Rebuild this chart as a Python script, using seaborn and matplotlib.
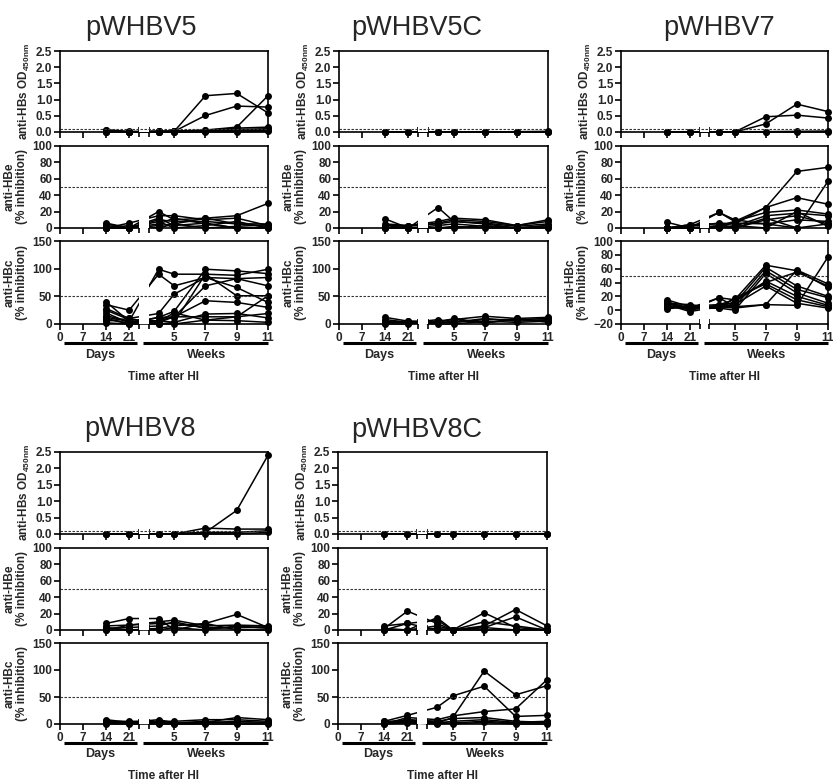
import numpy as np
import pandas as pd
import matplotlib
matplotlib.use("Agg")
import matplotlib.pyplot as plt
import seaborn as sns

sns.set_theme(style="ticks")
plt.rcParams["font.family"] = ["Liberation Sans", "DejaVu Sans"]
plt.rcParams["font.weight"] = "bold"
plt.rcParams["axes.labelweight"] = "bold"

# ---------------- data ----------------
day_points = [14, 21]
week_points = [4, 5, 7, 9, 11]
day_ticks = [0, 7, 14, 21]
week_ticks = [5, 7, 9, 11]

titles = ["pWHBV5", "pWHBV5C", "pWHBV7", "pWHBV8", "pWHBV8C"]
assays = ["HBs", "HBe", "HBc"]
thresholds = {"HBs": 0.1, "HBe": 50, "HBc": 50}

# each row: one animal, values at d14, d21, w4, w5, w7, w9, w11
v5_hbs = [[0.05, 0.00, 0.02, 0.02, 1.12, 1.19, 0.59],
          [0.03, 0.00, 0.02, 0.02, 0.51, 0.80, 0.77],
          [0.07, 0.02, 0.02, 0.03, 0.06, 0.15, 1.12],
          [0.02, 0.00, 0.02, 0.02, 0.05, 0.12, 0.15],
          [0.00, 0.00, 0.00, 0.02, 0.04, 0.08, 0.10],
          [0.02, 0.00, 0.00, 0.00, 0.03, 0.05, 0.08],
          [0.00, 0.00, 0.00, 0.00, 0.02, 0.03, 0.05],
          [0.00, 0.00, 0.00, 0.00, 0.00, 0.00, 0.02]]
v5_hbe = [[6, 0, 20, 10, 12, 15, 30],
          [0, 6, 15, 15, 10, 12, 3],
          [0, 0, 10, 8, 8, 5, 5],
          [3, 0, 5, 12, 5, 0, 0],
          [0, 3, 0, 5, 12, 5, 2],
          [0, 0, 8, 0, 3, 8, 0],
          [0, 0, 3, 5, 0, 2, 4],
          [5, 0, 12, 3, 6, 0, 1]]
v5_hbc = [[40, 5, 99, 90, 90, 88, 99],
          [35, 25, 90, 69, 84, 66, 39],
          [28, 10, 19, 54, 84, 82, 84],
          [20, 2, 12, 23, 99, 96, 91],
          [15, 5, 6, 3, 90, 51, 51],
          [10, 0, 12, 13, 69, 82, 69],
          [8, 2, 6, 13, 42, 39, 30],
          [5, 10, 0, 3, 18, 19, 11],
          [12, 5, 3, 13, 13, 13, 19],
          [2, 0, 0, 0, 7, 6, 3],
          [25, 8, 5, 20, 7, 13, 51]]

v5c_hbs = [[0.00, 0.00, 0.00, 0.01, 0.00, 0.01, 0.02],
           [0.01, 0.00, 0.01, 0.00, 0.01, 0.00, 0.01],
           [0.00, 0.01, 0.00, 0.00, 0.00, 0.00, 0.00],
           [0.00, 0.00, 0.00, 0.00, 0.00, 0.00, 0.00]]
v5c_hbe = [[11, 0, 25, 8, 5, 0, 3],
           [3, 3, 8, 12, 10, 3, 10],
           [0, 2, 6, 10, 8, 3, 8],
           [0, 0, 3, 5, 2, 0, 3],
           [3, 0, 0, 2, 0, 0, 0],
           [0, 0, 0, 0, 3, 0, 1],
           [5, 3, 5, 8, 6, 2, 5]]
v5c_hbc = [[12, 5, 5, 8, 14, 10, 12],
           [8, 3, 3, 10, 2, 8, 10],
           [5, 2, 8, 3, 10, 5, 8],
           [3, 3, 0, 0, 5, 3, 5],
           [0, 0, 5, 8, 2, 10, 3],
           [2, 5, 3, 3, 8, 8, 6]]

v7_hbs = [[0.00, 0.00, 0.00, 0.00, 0.25, 0.86, 0.63],
          [0.00, 0.00, 0.00, 0.00, 0.47, 0.52, 0.43],
          [0.01, 0.00, 0.00, 0.01, 0.01, 0.02, 0.03],
          [0.00, 0.00, 0.00, 0.00, 0.00, 0.00, 0.00]]
v7_hbe = [[7, 0, 19, 8, 25, 69, 74],
          [0, 4, 19, 10, 5, 0, 57],
          [0, 2, 6, 5, 25, 37, 29],
          [0, 0, 3, 8, 19, 22, 17],
          [0, 0, 1, 2, 15, 18, 15],
          [0, 4, 5, 0, 10, 15, 5],
          [0, 0, 2, 6, 5, 10, 8],
          [0, 0, 0, 3, 0, 20, 2],
          [0, 0, 1, 0, 12, 0, 5]]
v7_hbc = [[15, 5, 5, 3, 8, 58, 38],
          [12, 3, 18, 15, 65, 57, 33],
          [10, 0, 8, 10, 62, 35, 20],
          [8, -2, 5, 5, 57, 30, 18],
          [5, 2, 3, 0, 53, 25, 10],
          [2, 5, 5, 12, 42, 20, 7],
          [10, 8, 3, 18, 38, 15, 5],
          [6, 3, 5, 8, 35, 10, 3],
          [12, 0, 18, 5, 8, 7, 77],
          [4, 6, 8, 15, 40, 55, 35]]

v8_hbs = [[0.00, 0.00, 0.00, 0.00, 0.05, 0.72, 2.40],
          [0.00, 0.00, 0.00, 0.00, 0.18, 0.15, 0.15],
          [0.00, 0.00, 0.00, 0.01, 0.05, 0.05, 0.10],
          [0.00, 0.00, 0.00, 0.00, 0.00, 0.00, 0.05]]
v8_hbe = [[8, 14, 14, 0, 8, 19, 3],
          [5, 6, 10, 12, 5, 6, 5],
          [2, 3, 5, 10, 2, 3, 3],
          [0, 0, 2, 5, 8, 0, 0],
          [3, 0, 0, 3, 0, 5, 2],
          [0, 6, 8, 8, 3, 3, 4]]
v8_hbc = [[8, 3, 8, 2, 3, 12, 8],
          [5, 5, 5, 5, 8, 8, 5],
          [2, 2, 2, 0, 2, 5, 3],
          [3, 3, 3, 2, 5, 2, 2],
          [0, 0, 0, 0, 0, 0, 0]]

v8c_hbs = [[0.00, 0.00, 0.00, 0.00, 0.00, 0.01, 0.01],
           [0.00, 0.01, 0.00, 0.00, 0.00, 0.00, 0.00],
           [0.00, 0.00, 0.00, 0.00, 0.00, 0.00, 0.00]]
v8c_hbe = [[2, 23, 8, 0, 21, 3, 0],
           [5, 8, 12, 0, 5, 25, 5],
           [0, 0, 15, 0, 3, 16, 0],
           [0, 0, 5, 0, 10, 5, 0],
           [2, 0, 2, 0, 0, 0, 0],
           [0, 8, 0, 0, 3, 0, 0]]
v8c_hbc = [[5, 16, 31, 52, 70, 14, 16],
           [3, 8, 2, 12, 98, 54, 71],
           [0, 12, 8, 15, 23, 28, 82],
           [5, 5, 5, 10, 12, 5, 3],
           [3, 3, 2, 5, 8, 3, 5],
           [0, 2, 0, 2, 5, 2, 3],
           [2, 8, 5, 0, 3, 0, 0]]

group_data = {
    "pWHBV5": (v5_hbs, v5_hbe, v5_hbc),
    "pWHBV5C": (v5c_hbs, v5c_hbe, v5c_hbc),
    "pWHBV7": (v7_hbs, v7_hbe, v7_hbc),
    "pWHBV8": (v8_hbs, v8_hbe, v8_hbc),
    "pWHBV8C": (v8c_hbs, v8c_hbe, v8c_hbc),
}

# time in days for every sample
time_days = day_points + [w * 7 for w in week_points]

# ---------------- broken x scale (days segment | weeks segment) ----------------
P_DAY_END = 24 * 23 / 7            # position of the end of the days segment
P_W4 = 114 + (28 - 35) * 15.6 / 7  # position of week 4


def fwd(d):
    d = np.asarray(d, dtype=float)
    return np.where(d <= 24, d * 23 / 7,
                    np.where(d < 28, P_DAY_END + (d - 24) * (P_W4 - P_DAY_END) / 4,
                             114 + (d - 35) * 15.6 / 7))


def inv(p):
    p = np.asarray(p, dtype=float)
    return np.where(p <= P_DAY_END, p * 7 / 23,
                    np.where(p < P_W4, 24 + (p - P_DAY_END) * 4 / (P_W4 - P_DAY_END),
                             35 + (p - 114) * 7 / 15.6))


DAYS_END = 24.0
WEEKS_START = 25.95
X_END = 77.0

# ---------------- layout ----------------
W, H = 833, 782
fig = plt.figure(figsize=(W / 100, H / 100), dpi=100)

col_x = {"pWHBV5": (60, 268), "pWHBV5C": (339, 548), "pWHBV7": (621, 828),
         "pWHBV8": (60, 268), "pWHBV8C": (338, 547)}
row_of = {"pWHBV5": 0, "pWHBV5C": 0, "pWHBV7": 0, "pWHBV8": 1, "pWHBV8C": 1}
rows_y = [[(51, 132), (146, 228), (241, 324)],
          [(452, 534), (548, 630), (643, 724)]]
title_pos = {"pWHBV5": (141, 28), "pWHBV5C": (417, 28), "pWHBV7": (719, 28),
             "pWHBV8": (140, 429), "pWHBV8C": (417, 430)}

ylabels = {"HBs": r"anti-HBs OD$_{\mathregular{450nm}}$",
           "HBe": "anti-HBe\n(% inhibition)",
           "HBc": "anti-HBc\n(% inhibition)"}

LW = 1.1
for name in titles:
    x0, x1 = col_x[name]
    r = row_of[name]
    tx, ty = title_pos[name]
    fig.text(tx / W, 1 - ty / H, name, ha="center", va="center",
             fontsize=19.5, fontweight="normal")
    for k, assay in enumerate(assays):
        yt, yb = rows_y[r][k]
        ax = fig.add_axes([x0 / W, 1 - yb / H, (x1 - x0) / W, (yb - yt) / H])
        values = group_data[name][k]
        rows = []
        for s, series in enumerate(values):
            for t, v in zip(time_days, series):
                rows.append({"animal": s, "t": t, "v": v})
        df = pd.DataFrame(rows)
        sns.lineplot(data=df, x="t", y="v", units="animal", estimator=None,
                     color="black", marker="o", markersize=5, markeredgewidth=0,
                     linewidth=LW, legend=False, ax=ax, clip_on=False, zorder=2)
        ax.set_xscale("function", functions=(fwd, inv))
        ax.set_xlim(0, X_END)

        if assay == "HBs":
            ax.set_ylim(0, 2.5)
            yt_vals = [0, 0.5, 1.0, 1.5, 2.0, 2.5]
            ax.set_yticks(yt_vals)
            ax.set_yticklabels([f"{v:.1f}" for v in yt_vals])
        elif assay == "HBe":
            ax.set_ylim(0, 100)
            ax.set_yticks([0, 20, 40, 60, 80, 100])
        else:
            if name == "pWHBV7":
                ax.set_ylim(-20, 100)
                ax.set_yticks([-20, 0, 20, 40, 60, 80, 100])
            else:
                ax.set_ylim(0, 150)
                ax.set_yticks([0, 50, 100, 150])

        # gap of the broken axis (hides the connecting segments)
        ax.axvspan(DAYS_END, WEEKS_START, color="white", zorder=2.2, lw=0)
        # threshold
        ax.axhline(thresholds[assay], color="#333333", lw=0.8, ls=(0, (2.2, 1.4)), zorder=2.3)

        # spines
        for sp in ["top", "left", "right"]:
            ax.spines[sp].set_visible(True)
            ax.spines[sp].set_linewidth(1.2)
            ax.spines[sp].set_color("black")
            ax.spines[sp].set_zorder(2.5)
        ax.spines["bottom"].set_visible(False)
        xt = ax.get_xaxis_transform()
        ax.plot([0, DAYS_END], [0, 0], transform=xt, color="black", lw=1.2,
                clip_on=False, zorder=1.9)
        ax.plot([WEEKS_START, X_END], [0, 0], transform=xt, color="black", lw=1.2,
                clip_on=False, zorder=1.9)

        ax.set_xticks(day_ticks + [w * 7 for w in week_ticks])
        ax.set_xticks([DAYS_END, WEEKS_START], minor=True)
        ax.tick_params(axis="x", which="major", direction="out", length=4, width=1.2,
                       color="black", labelsize=8.5, pad=1.5)
        ax.tick_params(axis="x", which="minor", direction="inout", length=7, width=1.2,
                       color="black")
        ax.tick_params(axis="y", direction="out", length=4, width=1.2, color="black",
                       labelsize=8.5, pad=1.5)
        ax.tick_params(axis="y", which="minor", length=0)
        for lab in ax.get_yticklabels():
            lab.set_fontweight("bold")
        if k == 2:
            ax.set_xticklabels([str(v) for v in day_ticks] + [str(v) for v in week_ticks],
                               fontweight="bold")
            # Days / Weeks bars
            ax.plot([1.2, 23.4], [-0.23, -0.23], transform=xt, color="black", lw=2.2,
                    clip_on=False, solid_capstyle="butt")
            ax.plot([24.85, X_END], [-0.23, -0.23], transform=xt, color="black", lw=2.2,
                    clip_on=False, solid_capstyle="butt")
            ax.text(12.3, -0.37, "Days", transform=xt, ha="center", va="center",
                    fontsize=9, fontweight="bold")
            ax.text(49.5, -0.37, "Weeks", transform=xt, ha="center", va="center",
                    fontsize=9, fontweight="bold")
            ax.text(0.5, -0.64, "Time after HI", transform=ax.transAxes, ha="center",
                    va="center", fontsize=8.5, fontweight="bold")
        else:
            ax.set_xticklabels([])
        ax.set_xlabel("")
        ax.set_ylabel(ylabels[assay], fontsize=8.5, fontweight="bold", labelpad=3,
                      linespacing=1.1)
        ax.set_facecolor("white")

fig.savefig("out.png", dpi=100, facecolor="white")
